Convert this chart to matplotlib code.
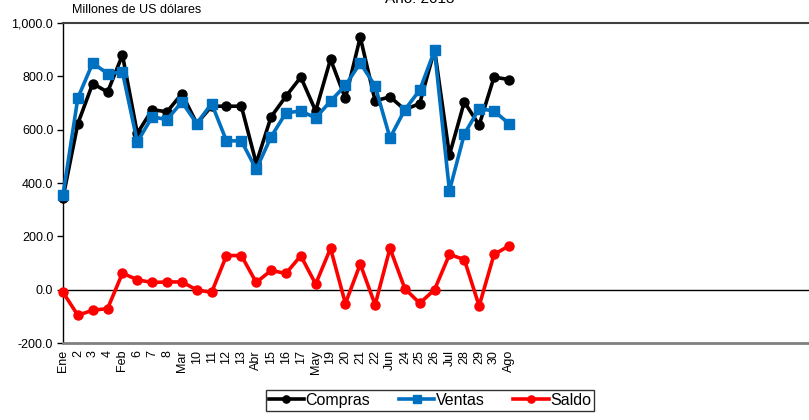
import matplotlib
matplotlib.use("Agg")
import matplotlib.pyplot as plt

plt.rcParams['font.family'] = ['Liberation Sans', 'DejaVu Sans']

# weekly labels (only the first 31 weeks have data)
semanas = ['Ene', '2', '3', '4', 'Feb', '6', '7', '8', 'Mar', '10', '11', '12', '13',
           'Abr', '15', '16', '17', 'May', '19', '20', '21', '22', 'Jun', '24', '25',
           '26', 'Jul', '28', '29', '30', 'Ago']
n_semanas = 52

compras = [345, 623, 773, 741, 880, 586, 675, 667, 735, 623, 688, 688, 688,
           474, 648, 725, 797, 670, 864, 717, 947, 708, 723, 675, 698,
           900, 505, 704, 617, 797, 788]
ventas = [355, 719, 850, 810, 816, 554, 648, 638, 704, 623, 698, 558, 558,
          451, 573, 663, 670, 644, 707, 766, 850, 764, 569, 675, 748,
          897, 371, 583, 679, 670, 623]
saldo = [-10, -96, -77, -71, 62, 37, 27, 29, 29, -1, -10, 128, 128,
         27, 72, 61, 127, 21, 155, -52, 96, -57, 155, 4, -51,
         0, 132, 113, -61, 132, 164]

fig = plt.figure(figsize=(8.09, 4.2), dpi=100)
ax = fig.add_axes([63 / 809, 1 - 343 / 420, (821 - 63) / 809, 320 / 420])

x = list(range(len(semanas)))
ax.plot(x, compras, color='black', lw=2.6, marker='o', ms=6.5, label='Compras', clip_on=False, zorder=4)
ax.plot(x, ventas, color='#0070C0', lw=2.6, marker='s', ms=6.5, label='Ventas', clip_on=False, zorder=5)
ax.plot(x, saldo, color='#FF0000', lw=2.6, marker='o', ms=6.5, label='Saldo', clip_on=False, zorder=5)

ax.axhline(0, color='black', lw=1, zorder=2)

ax.set_xlim(0, n_semanas - 1)
ax.set_ylim(-200, 1000)
ax.set_yticks(range(-200, 1001, 200))
ax.set_yticklabels([f'{v:,.1f}' for v in range(-200, 1001, 200)], fontsize=9)
ax.set_xticks(range(n_semanas))
ax.set_xticklabels(semanas + [''] * (n_semanas - len(semanas)), rotation=90, fontsize=9)
ax.tick_params(axis='x', length=0, pad=5)
ax.tick_params(axis='y', length=4, width=1, pad=3)

ax.spines['right'].set_visible(False)
ax.spines['left'].set_linewidth(1)
ax.spines['left'].set_color('black')
ax.spines['top'].set_color('#404040')
ax.spines['top'].set_linewidth(1.5)
ax.spines['bottom'].set_color('#808080')
ax.spines['bottom'].set_linewidth(2)

fig.text(72 / 809, 1 - 10 / 420, 'Millones de US dólares', fontsize=9, va='center', ha='left')
fig.text(420 / 809, 1 - 3 / 420, 'Año: 2013', fontsize=11, va='baseline', ha='center')

leg = fig.legend(loc='lower center', bbox_to_anchor=(430 / 809, 1 / 420), ncol=3,
                 fontsize=11.5, frameon=True, fancybox=False, edgecolor='black',
                 handlelength=2.2, handletextpad=0.1, columnspacing=1.8,
                 borderpad=0.2, markerscale=0.8)
leg.get_frame().set_linewidth(1)

fig.savefig('out.png', dpi=100)
